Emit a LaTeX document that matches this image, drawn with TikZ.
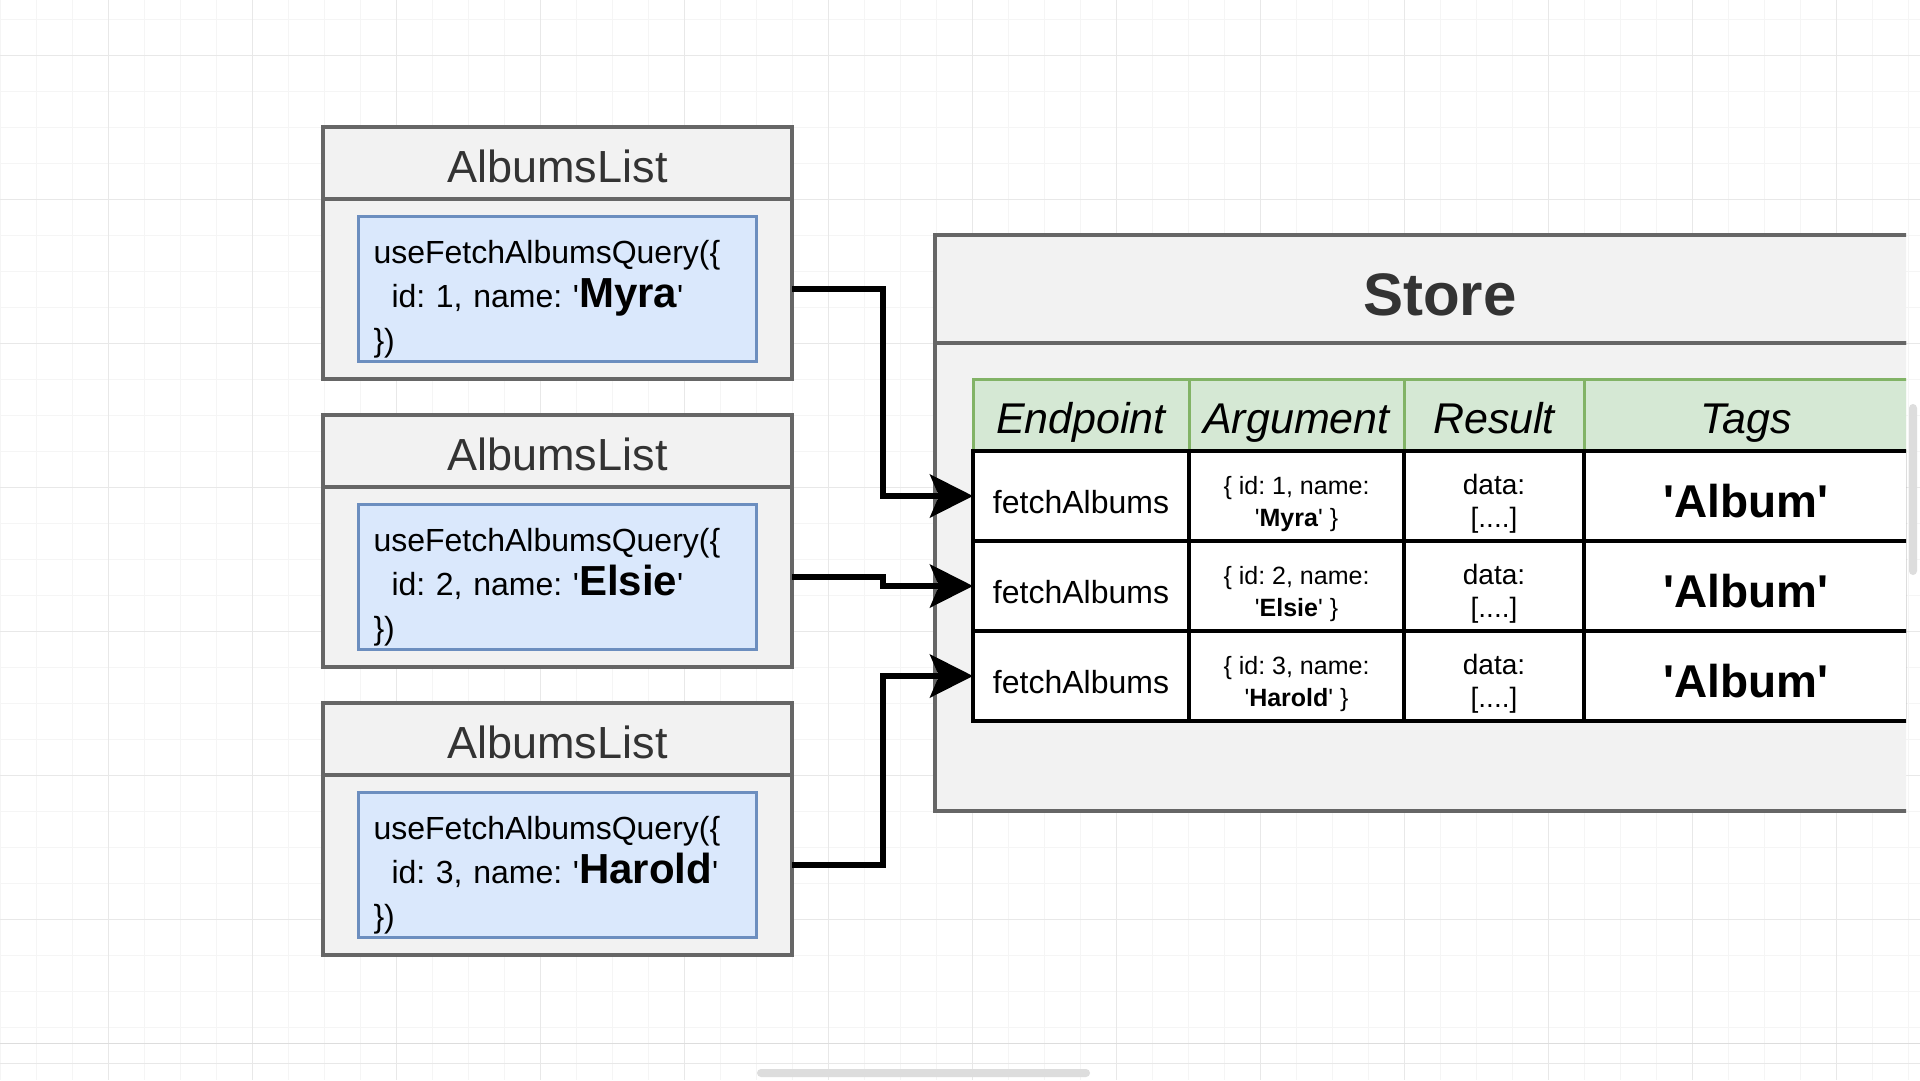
\documentclass[tikz,border=0pt]{standalone}
\usepackage{fontspec}
\setmainfont{Liberation Sans}
\usetikzlibrary{positioning,arrows.meta}

\definecolor{listfill}{HTML}{F2F2F2}
\definecolor{listline}{HTML}{666666}
\definecolor{queryfill}{HTML}{DAE8FC}
\definecolor{queryline}{HTML}{6C8EBF}
\definecolor{headfill}{HTML}{D5E8D4}
\definecolor{headline}{HTML}{82B366}
\definecolor{titletext}{HTML}{333333}
\definecolor{gridminor}{HTML}{F5F5F5}
\definecolor{gridmajor}{HTML}{E8E8E8}
\definecolor{chrome}{HTML}{DDDDDD}

\newcommand{\fsz}[2]{\fontsize{#1}{#2}\selectfont}
\newcommand{\sq}{\textquotesingle}

\begin{document}
\frenchspacing
\begin{tikzpicture}[x=1pt, y=-1pt,
    list head/.style={draw=listline, fill=listfill, line width=4pt, outer sep=0pt, inner sep=0pt,
                      minimum width=469pt, minimum height=72pt, text=titletext, font=\fsz{45}{54},
                      text height=38pt, text depth=0pt},
    list body/.style={draw=listline, fill=listfill, line width=4pt, outer sep=0pt,
                      minimum width=469pt, minimum height=180pt},
    query/.style={draw=queryline, fill=queryfill, line width=3pt, minimum width=398pt, minimum height=144pt,
                  text width=368pt, inner xsep=15pt, align=left, font=\fsz{32}{44}},
    store head/.style={draw=listline, fill=listfill, line width=4pt, outer sep=0pt, inner sep=0pt,
                       minimum width=1010pt, minimum height=108pt, text=titletext, font=\fsz{60}{70}\bfseries,
                       text height=53pt, text depth=0pt},
    store body/.style={draw=listline, fill=listfill, line width=4pt, outer sep=0pt,
                       minimum width=1010pt, minimum height=468pt},
    head cell/.style={draw=headline, fill=headfill, line width=3pt, outer sep=0pt, inner sep=0pt,
                      minimum height=72pt, font=\fsz{43}{50}\itshape, text height=45pt, text depth=9pt},
    row cell/.style={draw=black, fill=white, line width=3.5pt, outer sep=0pt, inner sep=0pt,
                     minimum height=90pt, align=center},
    link/.style={line width=6pt, -{Stealth[length=43pt, width=43pt, inset=9pt]}}]

  % background grid
  \fill[white] (0,0) rectangle (1920,1080);
  \useasboundingbox (0,0) rectangle (1920,1080);
  \foreach \x in {0,36,...,1908} \draw[gridminor, line width=1pt] (\x,0) -- (\x,1080);
  \foreach \y in {19,55,...,1080} \draw[gridminor, line width=1pt] (0,\y) -- (1920,\y);
  \foreach \x in {108,252,...,1908} \draw[gridmajor, line width=1pt] (\x,0) -- (\x,1080);
  \foreach \y in {55,199,...,1080} \draw[gridmajor, line width=1pt] (0,\y) -- (1920,\y);
  \draw[chrome, line width=1pt] (0,1043) -- (1920,1043);
  \fill[chrome, rounded corners=4pt] (757,1069) rectangle (1090,1077);
  \fill[chrome, rounded corners=4pt] (1909,404) rectangle (1917,575);

  % components
  \node[list head, anchor=north west] (head1) at (323,127) {AlbumsList};
  \node[list body, below=0pt of head1] (body1) {};
  \node[query] (query1) at (body1) {\rule{0pt}{43pt}useFetchAlbumsQuery(\{\\\hspace*{18pt}id: 1, name: \sq{\fsz{42}{44}\bfseries Myra}\sq\\\})};

  \node[list head, anchor=north west] (head2) at (323,415) {AlbumsList};
  \node[list body, below=0pt of head2] (body2) {};
  \node[query] (query2) at (body2) {\rule{0pt}{43pt}useFetchAlbumsQuery(\{\\\hspace*{18pt}id: 2, name: \sq{\fsz{42}{44}\bfseries Elsie}\sq\\\})};

  \node[list head, anchor=north west] (head3) at (323,703) {AlbumsList};
  \node[list body, below=0pt of head3] (body3) {};
  \node[query] (query3) at (body3) {\rule{0pt}{43pt}useFetchAlbumsQuery(\{\\\hspace*{18pt}id: 3, name: \sq{\fsz{42}{44}\bfseries Harold}\sq\\\})};

  % store and its cache table
  \begin{scope}
    \clip (0,0) rectangle (1906,1080);
    \node[store head, anchor=north west] (storehead) at (935,235) {Store};
    \node[store body, below=0pt of storehead] (storebody) {};

    \node[head cell, minimum width=216pt, anchor=north west] (hEnd) at (973,379) {Endpoint};
    \node[head cell, minimum width=215pt, right=0pt of hEnd] (hArg) {Argument};
    \node[head cell, minimum width=180pt, right=0pt of hArg] (hRes) {Result};
    \node[head cell, minimum width=324pt, right=0pt of hRes] (hTag) {Tags};

    \node[row cell, minimum width=216pt, below=0pt of hEnd, font=\fsz{32}{38}, text height=35pt] (ep1) {fetchAlbums};
    \node[row cell, minimum width=215pt, right=0pt of ep1, font=\fsz{25}{32}] (arg1) {\rule{0pt}{34pt}\{ id: 1, name:\\\sq\textbf{Myra}\sq\ \}};
    \node[row cell, minimum width=180pt, right=0pt of arg1, font=\fsz{28}{33}] (res1) {\rule{0pt}{36pt}data:\\{[....]}};
    \node[row cell, minimum width=324pt, right=0pt of res1, font=\fsz{46}{50}\bfseries, text height=44pt] (tag1) {\sq Album\sq};

    \node[row cell, minimum width=216pt, below=0pt of ep1, font=\fsz{32}{38}, text height=35pt] (ep2) {fetchAlbums};
    \node[row cell, minimum width=215pt, right=0pt of ep2, font=\fsz{25}{32}] (arg2) {\rule{0pt}{34pt}\{ id: 2, name:\\\sq\textbf{Elsie}\sq\ \}};
    \node[row cell, minimum width=180pt, right=0pt of arg2, font=\fsz{28}{33}] (res2) {\rule{0pt}{36pt}data:\\{[....]}};
    \node[row cell, minimum width=324pt, right=0pt of res2, font=\fsz{46}{50}\bfseries, text height=44pt] (tag2) {\sq Album\sq};

    \node[row cell, minimum width=216pt, below=0pt of ep2, font=\fsz{32}{38}, text height=35pt] (ep3) {fetchAlbums};
    \node[row cell, minimum width=215pt, right=0pt of ep3, font=\fsz{25}{32}] (arg3) {\rule{0pt}{34pt}\{ id: 3, name:\\\sq\textbf{Harold}\sq\ \}};
    \node[row cell, minimum width=180pt, right=0pt of arg3, font=\fsz{28}{33}] (res3) {\rule{0pt}{36pt}data:\\{[....]}};
    \node[row cell, minimum width=324pt, right=0pt of res3, font=\fsz{46}{50}\bfseries, text height=44pt] (tag3) {\sq Album\sq};
  \end{scope}

  % queries to cache entries
  \coordinate (elbow) at (883,0);
  \draw[link] (body1.east) -- (body1.east -| elbow) |- (ep1.west);
  \draw[link] (body2.east) -- (body2.east -| elbow) |- (ep2.west);
  \draw[link] (body3.east) -- (body3.east -| elbow) |- (ep3.west);

\end{tikzpicture}
\end{document}
